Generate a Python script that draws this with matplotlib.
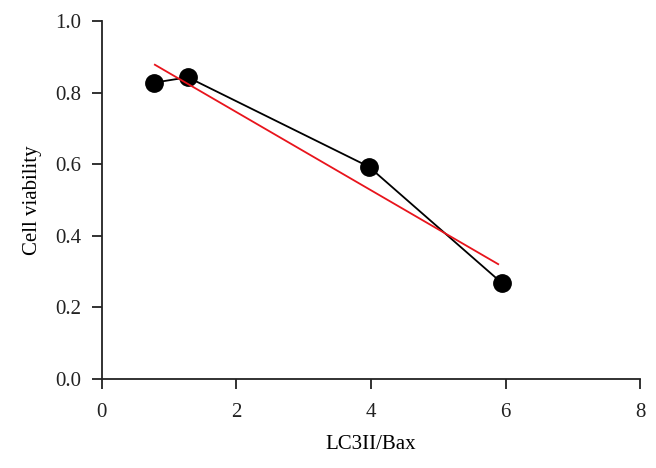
import numpy as np
import matplotlib
matplotlib.use("Agg")
import matplotlib.pyplot as plt

# Values
ratio = [0.78, 1.28, 3.97, 5.94]          # LC3II/Bax
viability = [0.828, 0.843, 0.593, 0.269]  # cell viability

# fitted regression line shown in red (endpoints)
fit_x = [0.79, 5.89]
fit_y = [0.878, 0.321]

plt.rcParams['font.family'] = ['Liberation Serif', 'DejaVu Serif']

fig = plt.figure(figsize=(6.56, 4.68), dpi=100)
ax = fig.add_axes([0.155, 0.190, 0.821, 0.765])

ax.plot(ratio, viability, color='black', linewidth=1.3, zorder=2)
ax.plot(ratio, viability, 'o', color='black', markersize=12.5, zorder=3)
ax.plot(fit_x, fit_y, color='#e8141c', linewidth=1.3, zorder=4)

ax.set_xlim(0, 8)
ax.set_ylim(0, 1.0)
ax.set_xticks([0, 2, 4, 6, 8])
ax.set_yticks([0.0, 0.2, 0.4, 0.6, 0.8, 1.0])
ax.set_yticklabels(['0.0', '0.2', '0.4', '0.6', '0.8', '1.0'])

for side in ['top', 'right']:
    ax.spines[side].set_visible(False)
for side in ['left', 'bottom']:
    ax.spines[side].set_linewidth(1.3)
    ax.spines[side].set_color('#222222')

ax.tick_params(axis='both', direction='out', length=7.5, width=1.3,
               colors='#222222', labelsize=15)
ax.tick_params(axis='x', pad=10)
ax.tick_params(axis='y', pad=7)

ax.set_xlabel('LC3II/Bax', fontsize=15, labelpad=9)
ax.set_ylabel('Cell viability', fontsize=15, labelpad=10)

fig.savefig('out.png', dpi=100)
